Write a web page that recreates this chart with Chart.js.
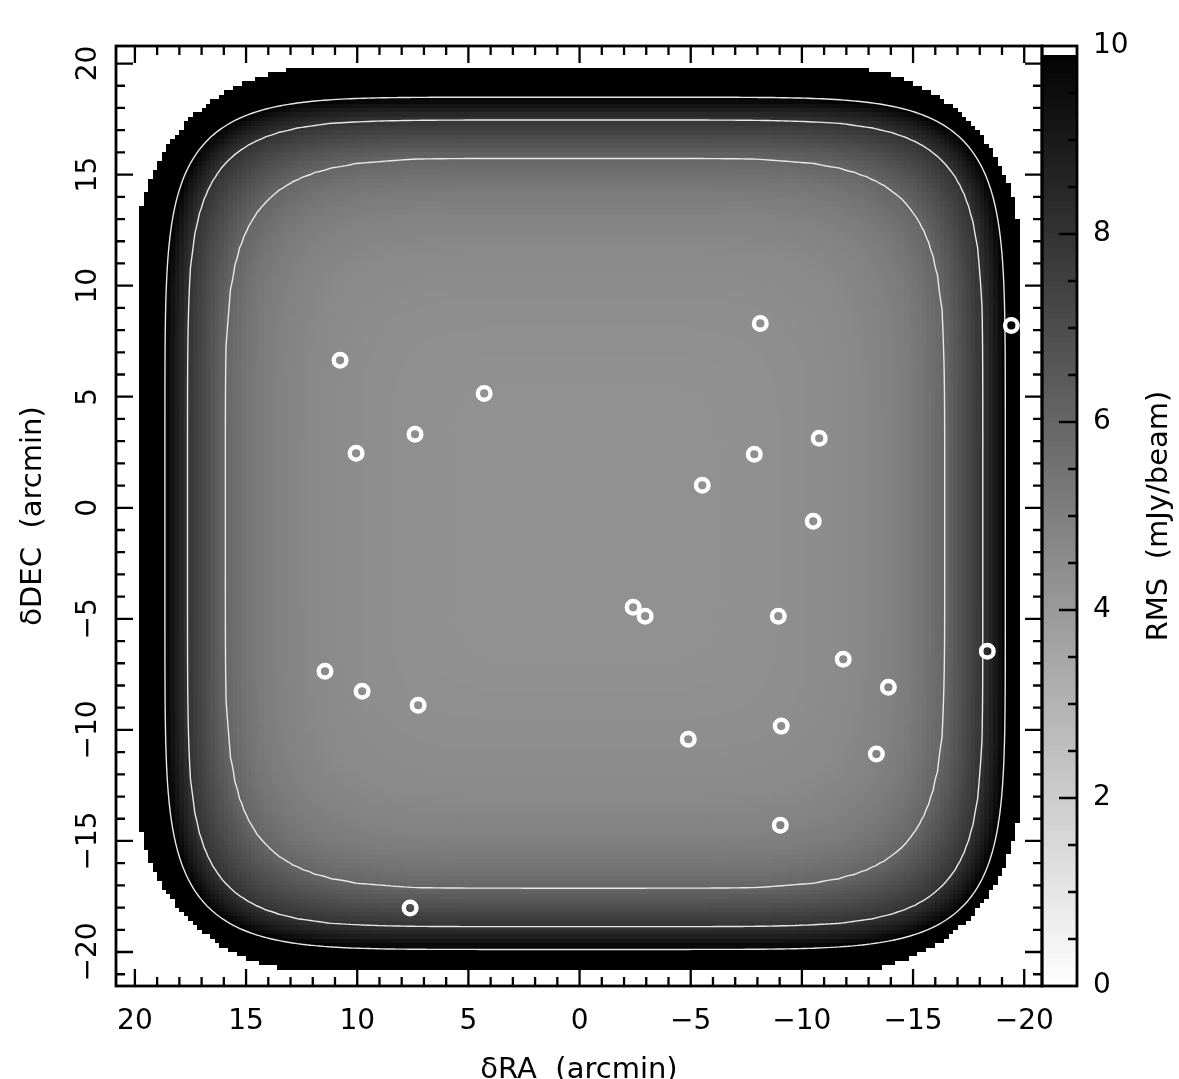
<!DOCTYPE html>
<html>
<head>
<meta charset="utf-8">
<script src="https://cdn.jsdelivr.net/npm/chart.js@4.4.0/dist/chart.umd.min.js"></script>
<style>
  html, body { margin: 0; padding: 0; background: #fff; }
  #wrap { width: 1179px; height: 1079px; }
</style>
</head>
<body>
<div id="wrap"><canvas id="c" width="1179" height="1079"></canvas></div>
<script>
// detected sources (arcmin offsets)
const srcRA = [-8.13, -19.42, 10.77, 4.29, 7.40, -10.78, 10.05, -7.86, -5.52, -10.51, -2.41, -2.95, -8.94, -11.86, -18.34, 11.45, -13.89, 9.78, 7.26, -9.07, -4.89, -13.35, -9.03, 7.62]
const srcDEC = [8.30, 8.21, 6.64, 5.15, 3.31, 3.13, 2.45, 2.41, 1.01, -0.61, -4.48, -4.88, -4.88, -6.82, -6.46, -7.36, -8.08, -8.26, -8.89, -9.83, -10.42, -11.09, -14.29, -18.02]

// tick labels
const raTicks = [20, 15, 10, 5, 0, -5, -10, -15, -20]
const decTicks = [20, 15, 10, 5, 0, -5, -10, -15, -20]
const rmsTicks = [0, 2, 4, 6, 8, 10]

// rms (mJy/beam) read along the RA cut, vs distance from map centre (arcmin)
const profDist = [0, 6, 10, 12, 13.5, 14.5, 15.3, 16.2, 17.0, 17.9, 18.4, 18.9, 19.5, 21]
const profRms = [4.3, 4.33, 4.45, 4.6, 4.85, 5.1, 5.45, 6.0, 6.9, 8.0, 8.9, 10, 11.3, 15]
// how square the iso-rms curves are, vs distance
const shapeDist = [0, 16, 18, 20]
const shapePow = [5.5, 5.5, 6.5, 6.5]
const mapCentre = [-0.25, -0.7]
const decStretch = 1.015

// white contours
const contourLevels = [6, 8, 10]

// edge of mosaic coverage: RA left/right, DEC top/bottom, corner radius
const edgeRA = [19.9, -19.8]
const edgeDEC = [19.8, -20.9]
const edgeRadius = 8

const cellSize = 0.2
const cbTop = 9.9

const lerp = (xs, ys, v) => {
  if (v <= xs[0]) return ys[0]
  for (let i = 1; i < xs.length; i++) {
    if (v <= xs[i]) return ys[i - 1] + (ys[i] - ys[i - 1]) * (v - xs[i - 1]) / (xs[i] - xs[i - 1])
  }
  const n = xs.length - 1
  return ys[n] + (ys[n] - ys[n - 1]) * (v - xs[n]) / (xs[n] - xs[n - 1])
}

const rmsAt = (x, y) => {
  const dx = Math.abs(x - mapCentre[0])
  const dy = Math.abs(y - mapCentre[1]) / decStretch
  const m = Math.max(dx, dy)
  if (m === 0) return profRms[0]
  let lo = m, hi = m * 1.2
  for (let k = 0; k < 22; k++) {
    const q = (lo + hi) / 2
    const p = lerp(shapeDist, shapePow, q)
    const f = Math.pow(dx / q, p) + Math.pow(dy / q, p)
    if (f > 1) lo = q; else hi = q
  }
  return lerp(profDist, profRms, (lo + hi) / 2)
}

const inEdge = (x, y) => {
  if (x > edgeRA[0] || x < edgeRA[1] || y > edgeDEC[0] || y < edgeDEC[1]) return false
  const cx = x > 0 ? edgeRA[0] - edgeRadius : edgeRA[1] + edgeRadius
  const cy = y > 0 ? edgeDEC[0] - edgeRadius : edgeDEC[1] + edgeRadius
  const ox = Math.max(0, Math.abs(x) - Math.abs(cx)), oy = Math.max(0, Math.abs(y) - Math.abs(cy))
  return ox * ox + oy * oy <= edgeRadius * edgeRadius
}

const gray = v => {
  const t = Math.max(0, Math.min(10, v)) / 10
  const g = Math.round(255 * (1 - t))
  return `rgb(${g},${g},${g})`
}

// gridded map
const N = Math.round(42 / cellSize)
const gx = [], gy = []
for (let i = 0; i < N; i++) { gx.push(-21 + (i + 0.5) * cellSize); gy.push(-21.6 + (i + 0.5) * cellSize) }
const V = [], M = []
for (let j = 0; j < N; j++) {
  const row = [], mrow = []
  for (let i = 0; i < N; i++) {
    row.push(rmsAt(gx[i], gy[j]))
    mrow.push(inEdge(gx[i], gy[j]))
  }
  V.push(row); M.push(mrow)
}

const fmt = v => String(v).replace('-', '\u2212')
const FONT = '"DejaVu Sans", sans-serif'

const mapPlugin = {
  id: 'map',
  beforeDatasetsDraw(chart) {
    const ctx = chart.ctx
    const xs = chart.scales.x, ys = chart.scales.y, cb = chart.scales.cb
    const a = chart.chartArea
    ctx.save()
    ctx.beginPath()
    ctx.rect(a.left, a.top, a.right - a.left, a.bottom - a.top)
    ctx.clip()
    const h = cellSize / 2
    for (let j = 0; j < N; j++) {
      const y0 = Math.round(ys.getPixelForValue(gy[j] + h)), y1 = Math.round(ys.getPixelForValue(gy[j] - h))
      for (let i = 0; i < N; i++) {
        if (!M[j][i]) continue
        const x0 = Math.round(xs.getPixelForValue(gx[i] + h)), x1 = Math.round(xs.getPixelForValue(gx[i] - h))
        ctx.fillStyle = gray(V[j][i])
        ctx.fillRect(x0, y0, x1 - x0, y1 - y0)
      }
    }
    // contours (marching squares on the gridded map)
    ctx.strokeStyle = '#e8e8e8'
    ctx.lineWidth = 1.4
    ctx.lineCap = 'round'
    const P = (x, y) => [xs.getPixelForValue(x), ys.getPixelForValue(y)]
    for (const lev of contourLevels) {
      ctx.beginPath()
      for (let j = 0; j < N - 1; j++) {
        for (let i = 0; i < N - 1; i++) {
          if (!(M[j][i] && M[j][i + 1] && M[j + 1][i] && M[j + 1][i + 1])) continue
          const va = V[j][i], vb = V[j][i + 1], vc = V[j + 1][i + 1], vd = V[j + 1][i]
          const cr = (p, q) => (p < lev) !== (q < lev)
          const pts = []
          if (cr(va, vb)) pts.push(P(gx[i] + (lev - va) / (vb - va) * cellSize, gy[j]))
          if (cr(vb, vc)) pts.push(P(gx[i + 1], gy[j] + (lev - vb) / (vc - vb) * cellSize))
          if (cr(vc, vd)) pts.push(P(gx[i + 1] - (lev - vc) / (vd - vc) * cellSize, gy[j + 1]))
          if (cr(vd, va)) pts.push(P(gx[i], gy[j + 1] - (lev - vd) / (va - vd) * cellSize))
          for (let k = 0; k + 1 < pts.length; k += 2) {
            ctx.moveTo(pts[k][0], pts[k][1])
            ctx.lineTo(pts[k + 1][0], pts[k + 1][1])
          }
        }
      }
      ctx.stroke()
    }
    ctx.restore()

    // colour wedge
    const cl = a.right, cr2 = a.right + 35
    const st = 0.05
    for (let v = 0; v < cbTop - 1e-9; v += st) {
      const p0 = Math.round(cb.getPixelForValue(v + st)), p1 = Math.round(cb.getPixelForValue(v))
      ctx.fillStyle = gray(v + st / 2)
      ctx.fillRect(cl, p0, cr2 - cl, p1 - p0)
    }
  },
  afterDraw(chart) {
    const ctx = chart.ctx
    const xs = chart.scales.x, ys = chart.scales.y, cb = chart.scales.cb
    const a = chart.chartArea
    const cl = a.right, cr2 = a.right + 35
    ctx.save()
    ctx.strokeStyle = '#000'
    ctx.fillStyle = '#000'
    ctx.lineWidth = 2.3
    ctx.lineCap = 'butt'
    ctx.beginPath()
    // RA ticks, top and bottom
    for (let v = -20; v <= 20; v++) {
      const px = xs.getPixelForValue(v)
      const len = v % 5 === 0 ? 17 : 9
      ctx.moveTo(px, a.bottom); ctx.lineTo(px, a.bottom - len)
      ctx.moveTo(px, a.top); ctx.lineTo(px, a.top + len)
    }
    // DEC ticks, left and right
    for (let v = -21; v <= 20; v++) {
      const py = ys.getPixelForValue(v)
      const len = v % 5 === 0 ? 17 : 9
      ctx.moveTo(a.left, py); ctx.lineTo(a.left + len, py)
      ctx.moveTo(a.right, py); ctx.lineTo(a.right - len, py)
    }
    // wedge ticks
    for (let v = 0.5; v < 10; v += 0.5) {
      const py = cb.getPixelForValue(v)
      const len = v % 2 === 0 ? 18 : 9
      ctx.moveTo(cr2, py); ctx.lineTo(cr2 - len, py)
    }
    ctx.stroke()
    ctx.lineWidth = 2.8
    ctx.strokeRect(a.left, a.top, a.right - a.left, a.bottom - a.top)
    ctx.strokeRect(cl, a.top, cr2 - cl, a.bottom - a.top)

    // tick labels
    ctx.font = '28px ' + FONT
    ctx.textAlign = 'center'
    ctx.textBaseline = 'alphabetic'
    raTicks.forEach(v => ctx.fillText(fmt(v), xs.getPixelForValue(v), 1029))
    decTicks.forEach(v => {
      ctx.save()
      ctx.translate(96, ys.getPixelForValue(v))
      ctx.rotate(-Math.PI / 2)
      ctx.fillText(fmt(v), 0, 0)
      ctx.restore()
    })
    ctx.textAlign = 'left'
    ctx.textBaseline = 'middle'
    rmsTicks.forEach(v => ctx.fillText(fmt(v), 1093, cb.getPixelForValue(v)))

    // axis titles
    ctx.font = '29px ' + FONT
    ctx.textAlign = 'center'
    ctx.textBaseline = 'alphabetic'
    ctx.fillText('\u03b4RA  (arcmin)', (a.left + a.right) / 2, 1078)
    ctx.save()
    ctx.translate(41, (a.top + a.bottom) / 2)
    ctx.rotate(-Math.PI / 2)
    ctx.fillText('\u03b4DEC  (arcmin)', 0, 0)
    ctx.restore()
    ctx.save()
    ctx.translate(1167, (a.top + a.bottom) / 2)
    ctx.rotate(-Math.PI / 2)
    ctx.fillText('RMS  (mJy/beam)', 0, 0)
    ctx.restore()
    ctx.restore()
  }
}

const hidden = { ticks: { display: false }, grid: { display: false }, border: { display: false } }

new Chart(document.getElementById('c'), {
  type: 'scatter',
  data: {
    datasets: [{
      data: srcRA.map((x, i) => ({ x: x, y: srcDEC[i] })),
      pointRadius: 6.3,
      pointHoverRadius: 6.3,
      pointBorderWidth: 4.4,
      pointHoverBorderWidth: 4.4,
      pointBorderColor: '#ffffff',
      pointBackgroundColor: 'rgba(0,0,0,0)'
    }]
  },
  options: {
    responsive: false,
    animation: false,
    events: [],
    layout: { padding: { top: 46, left: 0, right: 0, bottom: 0 } },
    plugins: { legend: { display: false }, tooltip: { enabled: false } },
    scales: {
      x: { type: 'linear', reverse: true, min: -20.8, max: 20.85, ...hidden, afterFit: s => { s.height = 93 } },
      y: { type: 'linear', min: -21.53, max: 20.79, ...hidden, afterFit: s => { s.width = 116 } },
      cb: { type: 'linear', position: 'right', min: 0, max: 10, ...hidden, afterFit: s => { s.width = 137 } }
    }
  },
  plugins: [mapPlugin]
})
</script>
</body>
</html>
